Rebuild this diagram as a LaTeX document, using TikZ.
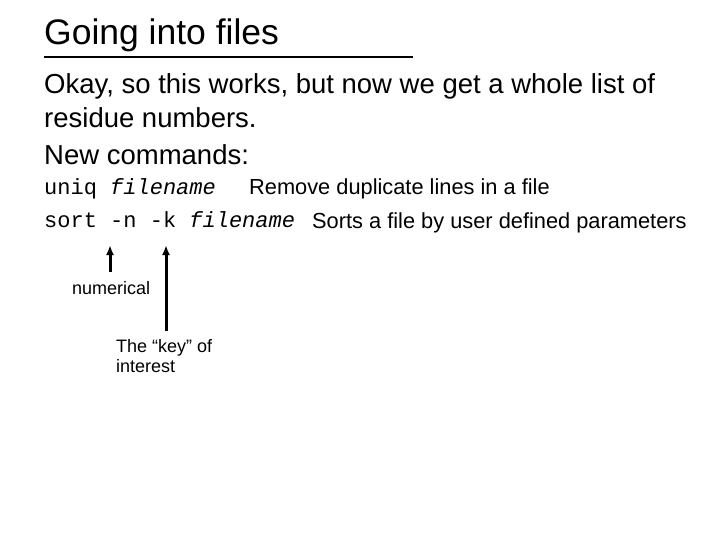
\documentclass[tikz,border=0pt]{standalone}
\usepackage{fontspec}
\usetikzlibrary{arrows.meta}
\setmainfont{Liberation Sans}
\setmonofont{Liberation Mono}
\begin{document}
\begin{tikzpicture}[x=1pt,y=-1pt,
  txt/.style={anchor=base west,inner sep=0pt},
  arr/.style={-{Latex[length=10pt,width=8pt]},line width=3pt}]
\useasboundingbox (0,0) rectangle (720,540);
\node[txt,font=\fontsize{35.5}{40}\selectfont] (title) at (44,45) {Going into files};
\draw[line width=2.5pt] (44,57) coordinate (ul1) -- (413,57) coordinate (ul2);
\node[txt,font=\fontsize{27.5}{32}\selectfont] (l1) at (44,94) {Okay, so this works, but now we get a whole list of};
\node[txt,font=\fontsize{27.5}{32}\selectfont] (l2) at (44,128) {residue numbers.};
\node[txt,font=\fontsize{27.5}{32}\selectfont] (l3) at (44,165) {New commands:};
\node[txt,font=\ttfamily\fontsize{22}{26}\selectfont] (c1) at (44,195) {uniq \textit{filename}};
\node[txt,font=\fontsize{21.8}{26}\selectfont] (d1) at (249,195) {Remove duplicate lines in a file};
\node[txt,font=\ttfamily\fontsize{22}{26}\selectfont] (c2) at (44,227) {sort -n -k \textit{filename}};
\node[txt,font=\fontsize{21.8}{26}\selectfont] (d2) at (312,229) {Sorts a file by user defined parameters};
\coordinate (n) at (110,245);
\coordinate (k) at (166,245);
\node[txt,font=\fontsize{18}{21}\selectfont] (num) at (72,294) {numerical};
\node[txt,font=\fontsize{18}{20}\selectfont,align=left,anchor=north west] (key) at (116,339) {The “key” of\\interest};
\draw[arr] (110,272) coordinate (a1) -- (n);
\draw[arr] (166,331) coordinate (a2) -- (k);
\end{tikzpicture}
\end{document}
